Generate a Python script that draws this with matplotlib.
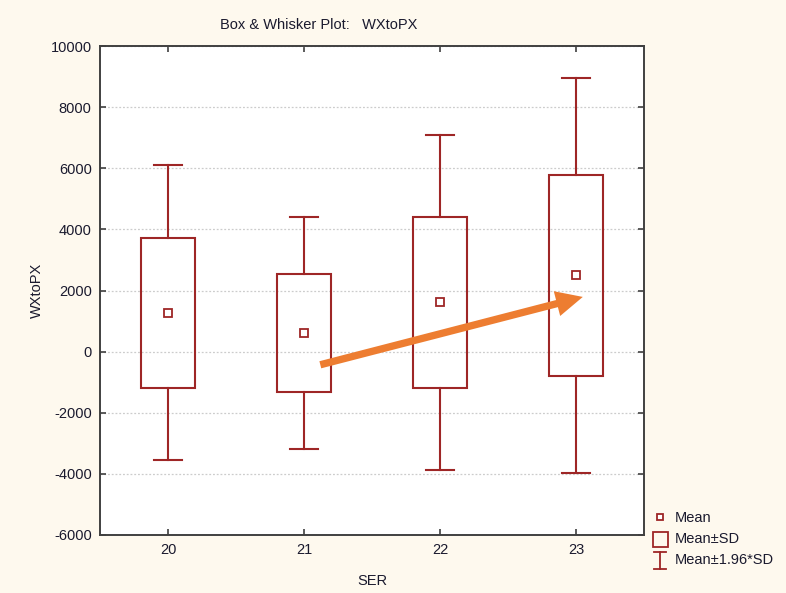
import matplotlib
matplotlib.use("Agg")
import matplotlib.pyplot as plt
from matplotlib.patches import Rectangle

plt.rcParams['font.family'] = ['Liberation Sans', 'DejaVu Sans']

# ---- data ----
categories = [20, 21, 22, 23]
means = [1270, 615, 1610, 2495]
sds = [2460, 1935, 2797, 3295]
sd_factor = 1.96
yticks = [-6000, -4000, -2000, 0, 2000, 4000, 6000, 8000, 10000]
arrow_start = (21.12, -430)
arrow_end = (23.05, 1790)

W, H = 786, 593
BG = '#fef9ee'
RED = '#9e2626'
TXT = '#1a1a2e'

fig = plt.figure(figsize=(W / 100, H / 100), dpi=100, facecolor=BG)
ax = fig.add_axes([100 / W, 1 - 535 / H, (644 - 100) / W, (535 - 46) / H])
ax.set_facecolor('white')

box_w = 0.4
cap_w = 0.2
for x, m, s in zip(categories, means, sds):
    lo, hi = m - s, m + s
    wlo, whi = m - sd_factor * s, m + sd_factor * s
    ax.add_patch(Rectangle((x - box_w / 2, lo), box_w, hi - lo, fill=False,
                           edgecolor=RED, lw=1.5, zorder=3))
    ax.plot([x, x], [hi, whi], color=RED, lw=1.5, zorder=3)
    ax.plot([x, x], [lo, wlo], color=RED, lw=1.5, zorder=3)
    ax.plot([x - cap_w / 2, x + cap_w / 2], [whi, whi], color=RED, lw=1.5, zorder=3)
    ax.plot([x - cap_w / 2, x + cap_w / 2], [wlo, wlo], color=RED, lw=1.5, zorder=3)
    ax.plot([x], [m], marker='s', ms=5.5, mfc='white', mec=RED, mew=1.3, zorder=4)

ax.annotate('', xy=arrow_end, xytext=arrow_start,
            arrowprops=dict(arrowstyle='simple,head_length=1.2,head_width=1.15,tail_width=0.33',
                            mutation_scale=16, facecolor='#ed7d31', edgecolor='none',
                            lw=0, shrinkA=0, shrinkB=0),
            zorder=5)

ax.set_xlim(19.5, 23.5)
ax.set_ylim(-6000, 10000)
ax.set_xticks(categories)
ax.set_xticklabels([str(c) for c in categories])
ax.set_yticks(yticks)
ax.set_yticklabels([str(t) for t in yticks])
ax.yaxis.grid(True, linestyle=(0, (1.5, 1.5)), color='#cccccc', lw=0.9)
ax.set_axisbelow(True)
ax.tick_params(direction='in', length=4, width=1.2, color='#404040',
               top=True, right=True, labelsize=10.5, labelcolor=TXT, pad=6)
for sp in ax.spines.values():
    sp.set_color('#404040')
    sp.set_linewidth(1.4)

ax.set_xlabel('SER', fontsize=10.5, color=TXT, labelpad=12)
ax.set_ylabel('WXtoPX', fontsize=10.5, color=TXT, labelpad=5)

fig.text(220 / W, 1 - 25 / H, 'Box & Whisker Plot:   WXtoPX', fontsize=10.5,
         color=TXT, ha='left', va='center')

# ---- legend (figure pixel overlay) ----
lg = fig.add_axes([0, 0, 1, 1], facecolor='none')
lg.set_xlim(0, W)
lg.set_ylim(H, 0)
lg.axis('off')
lg.plot([660], [517], marker='s', ms=5, mfc='white', mec=RED, mew=1.3)
lg.add_patch(Rectangle((653, 532), 15, 15, fill=False, edgecolor=RED, lw=1.3))
lg.plot([660, 660], [552, 569], color=RED, lw=1.3)
lg.plot([654, 666], [552, 552], color=RED, lw=1.3)
lg.plot([654, 666], [569, 569], color=RED, lw=1.3)
for y, t in zip([518, 539, 560], ['Mean', 'Mean±SD', 'Mean±1.96*SD']):
    lg.text(675, y, t, fontsize=10.5, color=TXT, ha='left', va='center')

fig.savefig('out.png', dpi=100, facecolor=BG)
